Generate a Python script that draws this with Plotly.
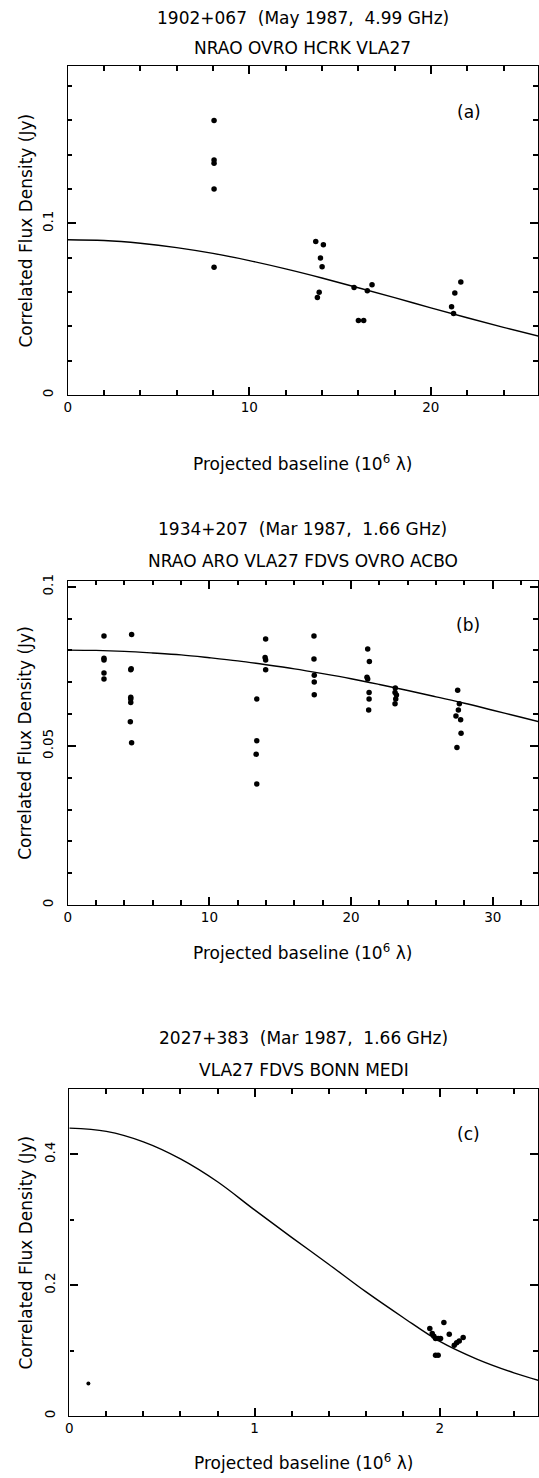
import plotly.graph_objects as go

W, H = 539, 1478

# ---------------- data ----------------
# Panel (a) 1902+067
a_x = [8.06, 8.06, 8.06, 8.06, 8.06, 13.66, 14.08, 13.92, 14.01, 13.85, 13.75,
       15.77, 16.01, 16.30, 16.50, 16.76, 21.14, 21.25, 21.32, 21.65]
a_y = [0.160, 0.137, 0.135, 0.120, 0.0745, 0.0895, 0.0876, 0.0798, 0.0747, 0.0598, 0.0568,
       0.0627, 0.0434, 0.0434, 0.0607, 0.0642, 0.0514, 0.0475, 0.0594, 0.0658]
a_fit_x = [0, 2, 4, 6, 8, 10, 12, 14, 16, 18, 20, 22, 24, 26]
a_fit_y = [0.0905, 0.0900, 0.0884, 0.0859, 0.0825, 0.0783, 0.0735, 0.0682, 0.0625,
           0.0567, 0.0508, 0.0450, 0.0394, 0.0341]

# Panel (b) 1934+207
b_x = [2.56, 2.56, 2.56, 2.56, 2.56,
       4.51, 4.45, 4.48, 4.45, 4.45, 4.45, 4.42, 4.51,
       13.34, 13.34, 13.30, 13.34,
       13.97, 13.93, 13.97, 13.97,
       17.38, 17.38, 17.40, 17.40, 17.40,
       21.17, 21.29, 21.12, 21.17, 21.27, 21.27, 21.24,
       23.12, 23.10, 23.20, 23.15, 23.10,
       27.52, 27.64, 27.57, 27.40, 27.73, 27.76, 27.47]
b_y = [0.0845, 0.0775, 0.0770, 0.0729, 0.0710,
       0.0850, 0.0739, 0.0742, 0.0653, 0.0647, 0.0636, 0.0576, 0.0510,
       0.0647, 0.0516, 0.0474, 0.0380,
       0.0836, 0.0778, 0.0770, 0.0739,
       0.0845, 0.0773, 0.0722, 0.0701, 0.0661,
       0.0804, 0.0765, 0.0716, 0.0710, 0.0668, 0.0647, 0.0613,
       0.0682, 0.0668, 0.0660, 0.0647, 0.0632,
       0.0675, 0.0632, 0.0613, 0.0594, 0.0582, 0.0540, 0.0495]
b_fit_x = [0, 2, 4, 6, 8, 10, 12, 14, 16, 18, 20, 22, 24, 26, 28, 30, 32, 34]
b_fit_y = [0.0801, 0.0800, 0.0797, 0.0792, 0.0786, 0.0777, 0.0767, 0.0755, 0.0742,
           0.0727, 0.0711, 0.0693, 0.0674, 0.0654, 0.0634, 0.0612, 0.0590, 0.0567]

# Panel (c) 2027+383
c_x = [1.946, 1.959, 1.968, 1.977, 1.991, 2.004, 1.977, 1.991, 2.022, 2.051,
       2.078, 2.091, 2.105, 2.126]
c_y = [0.1337, 0.126, 0.122, 0.1184, 0.1184, 0.1184, 0.093, 0.093, 0.1428, 0.125,
       0.108, 0.1118, 0.1148, 0.120]
c_small_x = [0.103]
c_small_y = [0.0498]
c_fit_x = [0, 0.2, 0.4, 0.6, 0.8, 1.0, 1.2, 1.4, 1.6, 1.8, 2.0, 2.2, 2.4, 2.6]
c_fit_y = [0.440, 0.435, 0.419, 0.393, 0.358, 0.315, 0.273, 0.232, 0.190, 0.151,
           0.114, 0.087, 0.066, 0.049]

titles1 = ["1902+067\u00a0 (May 1987,\u00a0 4.99 GHz)",
           "1934+207\u00a0 (Mar 1987,\u00a0 1.66 GHz)",
           "2027+383\u00a0 (Mar 1987,\u00a0 1.66 GHz)"]
titles2 = ["NRAO OVRO HCRK VLA27",
           "NRAO ARO VLA27 FDVS OVRO ACBO",
           "VLA27 FDVS BONN MEDI"]
panel_tags = ["(a)", "(b)", "(c)"]
ytitle = "Correlated Flux Density (Jy)"
xtitle = "Projected baseline (10<sup>6</sup> \u03bb)"

# ---------------- layout geometry (pixels) ----------------
FONT = "DejaVu Sans"
panels = [
    dict(left=67.7, top=66, bottom=395, xr=[0, 25.9], yr=[0, 0.1917],
         xmaj=10, xmin=2, ymaj=0.1, ymin=0.02, tag=(22.1, 0.165),
         t1=48, t2=18, xt=68),
    dict(left=67.7, top=580.7, bottom=905, xr=[0, 33.19], yr=[0, 0.1019],
         xmaj=10, xmin=2, ymaj=0.05, ymin=0.01, tag=(28.27, 0.088),
         t1=52, t2=20, xt=47),
    dict(left=69.3, top=1089, bottom=1416, xr=[0, 2.53], yr=[0, 0.4998],
         xmaj=1, xmin=0.2, ymaj=0.2, ymin=0.1, tag=(2.157, 0.431),
         t1=51, t2=19, xt=46),
]
RIGHT = 538


def px(x):
    return x / W


def py(y):
    return 1 - y / H


fig = go.Figure()
data = [(a_x, a_y, a_fit_x, a_fit_y), (b_x, b_y, b_fit_x, b_fit_y), (c_x, c_y, c_fit_x, c_fit_y)]

annotations = []
axes = {}
for i, (p, (dx, dy, fx, fy)) in enumerate(zip(panels, data)):
    n = "" if i == 0 else str(i + 1)
    xa, ya = "x" + n, "y" + n
    fig.add_trace(go.Scatter(x=fx, y=fy, mode="lines", line=dict(color="black", width=1.4, shape="spline"),
                             xaxis=xa, yaxis=ya, showlegend=False, hoverinfo="skip"))
    fig.add_trace(go.Scatter(x=dx, y=dy, mode="markers", marker=dict(color="black", size=5.5),
                             xaxis=xa, yaxis=ya, showlegend=False))
    if i == 2:
        fig.add_trace(go.Scatter(x=c_small_x, y=c_small_y, mode="markers",
                                 marker=dict(color="black", size=4),
                                 xaxis=xa, yaxis=ya, showlegend=False))
    common = dict(showgrid=False, zeroline=False, showline=True, linecolor="black", linewidth=1.4,
                  mirror="ticks", ticks="inside", tickcolor="black", tickwidth=1.8, ticklen=8,
                  layer="above traces",
                  tickfont=dict(family=FONT, size=13.5, color="black"))
    axes["xaxis" + n] = dict(
        common, domain=[px(p["left"]), px(RIGHT)], range=p["xr"], anchor=ya,
        tick0=0, dtick=p["xmaj"],
        minor=dict(dtick=p["xmin"], ticks="inside", ticklen=4.5, tickwidth=1.5, tickcolor="black",
                   showgrid=False))
    axes["yaxis" + n] = dict(
        common, domain=[py(p["bottom"]), py(p["top"])], range=p["yr"], anchor=xa,
        tick0=0, dtick=p["ymaj"], tickangle=-90, ticklabelstandoff=8,
        minor=dict(dtick=p["ymin"], ticks="inside", ticklen=4.5, tickwidth=1.5, tickcolor="black",
                   showgrid=False))
    cx = (p["left"] + RIGHT) / 2
    cy = (p["top"] + p["bottom"]) / 2
    tf = dict(family=FONT, size=17, color="black")
    annotations += [
        dict(text=titles1[i], x=px(cx), y=py(p["top"] - p["t1"]), xref="paper", yref="paper",
             showarrow=False, font=tf, xanchor="center", yanchor="middle"),
        dict(text=titles2[i], x=px(cx), y=py(p["top"] - p["t2"]), xref="paper", yref="paper",
             showarrow=False, font=tf, xanchor="center", yanchor="middle"),
        dict(text=ytitle, x=px(25), y=py(cy), xref="paper", yref="paper", textangle=-90,
             showarrow=False, font=tf, xanchor="center", yanchor="middle"),
        dict(text=xtitle, x=px(cx), y=py(p["bottom"] + p["xt"]), xref="paper", yref="paper",
             showarrow=False, font=tf, xanchor="center", yanchor="middle"),
        dict(text=panel_tags[i], x=p["tag"][0], y=p["tag"][1], xref=xa, yref=ya,
             showarrow=False, font=tf, xanchor="center", yanchor="middle"),
    ]

fig.update_layout(template="none", width=W, height=H, margin=dict(l=0, r=0, t=0, b=0),
                  paper_bgcolor="white", plot_bgcolor="white",
                  annotations=annotations, showlegend=False, **axes)
fig.write_html("out.html")
